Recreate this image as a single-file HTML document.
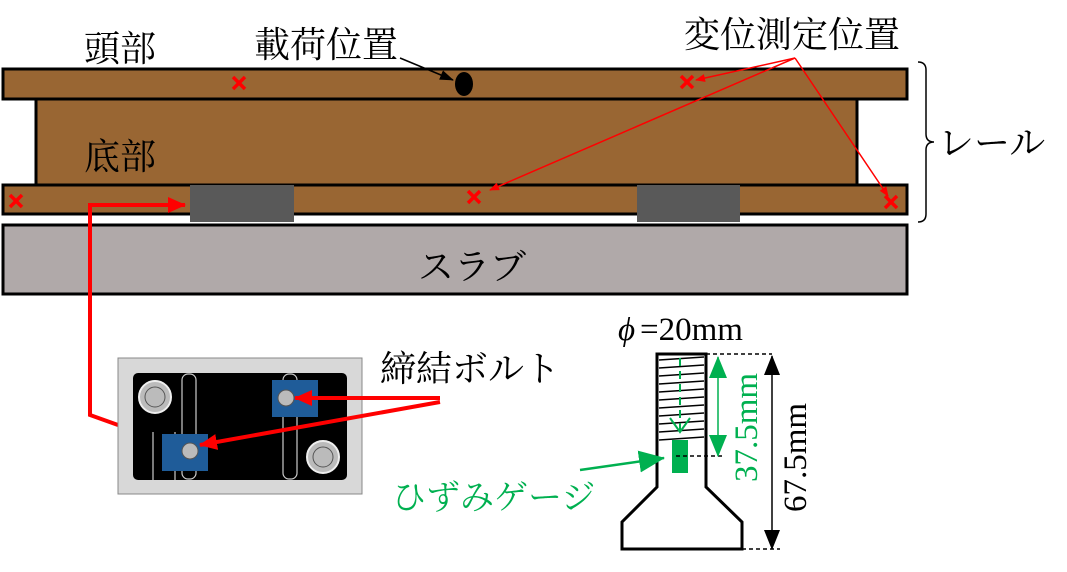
<html><body style="margin:0;background:#fff">
<svg width="1067" height="572" xmlns="http://www.w3.org/2000/svg" font-family="Liberation Serif, Noto Serif CJK SC, serif">
<defs>
<marker id="ar" markerWidth="10" markerHeight="8" refX="9" refY="4" orient="auto" markerUnits="userSpaceOnUse"><path d="M0,0 L10,4 L0,8z" fill="red"/></marker>
<marker id="ab" markerWidth="14" markerHeight="10" refX="13" refY="5" orient="auto" markerUnits="userSpaceOnUse"><path d="M0,0 L14,5 L0,10z" fill="#000"/></marker>
<marker id="ab2" markerWidth="20" markerHeight="16" refX="19" refY="8" orient="auto-start-reverse" markerUnits="userSpaceOnUse"><path d="M0,0 L20,8 L0,16z" fill="#000"/></marker>
<marker id="ag" markerWidth="22" markerHeight="18" refX="21" refY="9" orient="auto-start-reverse" markerUnits="userSpaceOnUse"><path d="M0,0 L22,9 L0,18z" fill="#00b050"/></marker>
<marker id="ag2" markerWidth="26" markerHeight="22" refX="25" refY="11" orient="auto" markerUnits="userSpaceOnUse"><path d="M0,0 L26,11 L0,22z" fill="#00b050"/></marker>
<marker id="ar2" markerWidth="18" markerHeight="16" refX="17" refY="8" orient="auto" markerUnits="userSpaceOnUse"><path d="M0,0 L18,8 L0,16z" fill="red"/></marker>
</defs>
<g stroke="#000" stroke-width="3">
<rect x="36" y="99" width="821" height="87" fill="#996633"/>
<rect x="3" y="69" width="904" height="30" fill="#996633"/>
<rect x="3" y="185" width="904" height="29" fill="#996633"/>
<rect x="3" y="225" width="904" height="69" fill="#b0a9a9"/>
</g>
<rect x="190" y="185" width="104" height="37" fill="#595959"/>
<rect x="637" y="185" width="103" height="37" fill="#595959"/>
<path d="M918,62 q8,0 8,8 v64 q0,8 8,8 q-8,0 -8,8 v64 q0,8 -8,8" fill="none" stroke="#000" stroke-width="1.5"/>
<g font-size="36">
<text x="84" y="61">頭部</text>
<text x="84" y="169">底部</text>
<text x="254" y="57">載荷位置</text>
<text x="684" y="47">変位測定位置</text>
<text x="938" y="155">レール</text>
<text x="418" y="279">スラブ</text>
<text x="380" y="381">締結ボルト</text>
</g>
<g font-size="33"><text x="618" y="340" font-style="italic">ϕ</text><text x="640" y="340">=20mm</text></g>
<ellipse cx="464" cy="84" rx="9" ry="12" fill="#000"/>
<line x1="400" y1="58" x2="453" y2="80" stroke="#000" stroke-width="1.5" marker-end="url(#ab)"/>
<g stroke="red" stroke-width="3.5">
<path d="M233,77 l12,12 M245,77 l-12,12 M681,76 l12,12 M693,76 l-12,12 M10,195 l12,12 M22,195 l-12,12 M468,191 l12,12 M480,191 l-12,12 M885,196 l12,12 M897,196 l-12,12"/>
</g>
<g stroke="red" stroke-width="1.5" fill="none">
<line x1="795" y1="58" x2="696" y2="80" marker-end="url(#ar)"/>
<line x1="795" y1="58" x2="490" y2="190" marker-end="url(#ar)"/>
<line x1="795" y1="58" x2="888" y2="196" marker-end="url(#ar)"/>
</g>
<path d="M118,425 L90,415 V205 H185" stroke="red" stroke-width="4" fill="none" marker-end="url(#ar2)"/>
<rect x="118" y="358" width="244" height="136" fill="#d8d8d8" stroke="#888"/>
<rect x="133" y="373" width="214" height="107" rx="5" fill="#000"/>
<g fill="none" stroke="#ccc" stroke-width="1.2">
<rect x="182" y="374" width="14" height="105" rx="6"/><rect x="283" y="374" width="14" height="105" rx="6"/>
<line x1="153" y1="432" x2="153" y2="480"/><line x1="175" y1="432" x2="175" y2="480"/>
</g>
<g><circle cx="155" cy="397" r="16" fill="#bbb" stroke="#eee" stroke-width="2"/><circle cx="155" cy="397" r="10" fill="#bbb" stroke="#555"/>
<circle cx="323" cy="457" r="16" fill="#bbb" stroke="#eee" stroke-width="2"/><circle cx="323" cy="457" r="10" fill="#bbb" stroke="#555"/></g>
<rect x="272" y="380" width="46" height="37" fill="#1f5c99"/><circle cx="286" cy="398" r="8" fill="#bbb" stroke="#555"/>
<rect x="162" y="434" width="46" height="37" fill="#1f5c99"/><circle cx="190" cy="451" r="8" fill="#bbb" stroke="#555"/>
<g stroke="red" stroke-width="4">
<line x1="440" y1="398" x2="295" y2="398" marker-end="url(#ar2)"/>
<line x1="440" y1="402" x2="200" y2="445" marker-end="url(#ar2)"/>
</g>
<path d="M657,354 H706 V487 L742,522 V549 H622 V522 L657,487 Z" fill="#fff" stroke="#000" stroke-width="3"/>
<g stroke="#000" stroke-width="1.5">
<path d="M659,360 l45,-3 M659,368 l45,-3 M659,376 l45,-3 M659,384 l45,-3 M659,392 l45,-3 M659,400 l45,-3 M659,408 l45,-3 M659,416 l45,-3 M659,424 l45,-3 M659,432 l45,-3 M659,440 l45,-3"/>
</g>
<rect x="672" y="440" width="16" height="33" fill="#00b050"/>
<line x1="680" y1="358" x2="680" y2="432" stroke="#00b050" stroke-width="2" stroke-dasharray="8,5"/>
<path d="M670,418 L680,432 L690,418" fill="none" stroke="#00b050" stroke-width="2"/>
<g stroke="#000" stroke-width="1.5" stroke-dasharray="4,3">
<line x1="706" y1="354" x2="772" y2="354"/><line x1="742" y1="549" x2="780" y2="549"/><line x1="676" y1="456" x2="722" y2="456"/>
</g>
<line x1="772" y1="356" x2="772" y2="549" stroke="#000" stroke-width="1.5" marker-start="url(#ab2)" marker-end="url(#ab2)"/>
<line x1="718" y1="357" x2="718" y2="456" stroke="#00b050" stroke-width="1.5" marker-start="url(#ag)" marker-end="url(#ag)"/>
<text transform="translate(757,482) rotate(-90)" font-size="33" fill="#00b050">37.5mm</text>
<text transform="translate(806,512) rotate(-90)" font-size="33">67.5mm</text>
<text x="392" y="509" font-size="34" fill="#00b050">ひずみゲージ</text>
<line x1="580" y1="470" x2="664" y2="458" stroke="#00b050" stroke-width="2.5" marker-end="url(#ag2)"/>
</svg>
</body></html>
